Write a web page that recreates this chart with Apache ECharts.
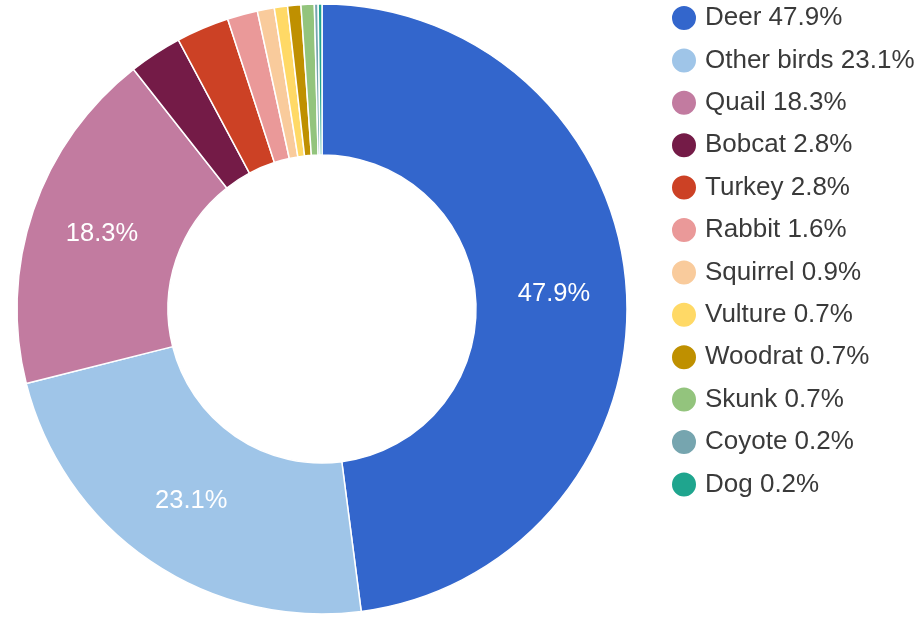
<!DOCTYPE html>
<html>
<head>
<meta charset="utf-8">
<script src="https://cdn.jsdelivr.net/npm/echarts@6/dist/echarts.min.js"></script>
<style>
html,body{margin:0;padding:0;background:#fff;}
#chart{width:923px;height:617px;}
</style>
</head>
<body>
<div id="chart"></div>
<script>
var categories = ['Deer','Other birds','Quail','Bobcat','Turkey','Rabbit','Squirrel','Vulture','Woodrat','Skunk','Coyote','Dog'];
var percents = [47.9, 23.1, 18.3, 2.8, 2.8, 1.6, 0.9, 0.7, 0.7, 0.7, 0.2, 0.2];
var colors = ['#3366CC','#9FC5E8','#C27BA0','#741B47','#CC4125','#EA9999','#F9CB9C','#FFD966','#BF9000','#93C47D','#76A5AF','#1FA58E'];

var valueByName = {};
categories.forEach(function(c,i){ valueByName[c] = percents[i]; });

var chart = echarts.init(document.getElementById('chart'));
chart.setOption({
  animation: false,
  color: colors,
  legend: {
    orient: 'vertical',
    left: 670,
    top: 4,
    padding: 0,
    icon: 'circle',
    itemWidth: 26,
    itemHeight: 26,
    itemGap: 14.4,
    selectedMode: false,
    textStyle: {
      fontFamily: '"Liberation Sans", Arial, sans-serif',
      fontSize: 26,
      lineHeight: 26,
      color: '#3a3a3a',
      padding: [0,0,0,3]
    },
    formatter: function(name){ return name + ' ' + valueByName[name].toFixed(1) + '%'; },
    data: categories
  },
  series: [{
    type: 'pie',
    center: [322, 309],
    radius: [154, 305],
    startAngle: 90,
    clockwise: true,
    avoidLabelOverlap: false,
    itemStyle: { borderColor: '#ffffff', borderWidth: 1.5 },
    label: {
      show: true,
      position: 'inside',
      color: '#ffffff',
      fontFamily: '"Liberation Sans", Arial, sans-serif',
      fontSize: 25.5,
      formatter: function(p){ return p.value >= 5 ? p.value.toFixed(1) + '%' : ''; }
    },
    labelLine: { show: false },
    emphasis: { disabled: true },
    data: categories.map(function(c,i){ return { name: c, value: percents[i] }; })
  }]
});
</script>
</body>
</html>
